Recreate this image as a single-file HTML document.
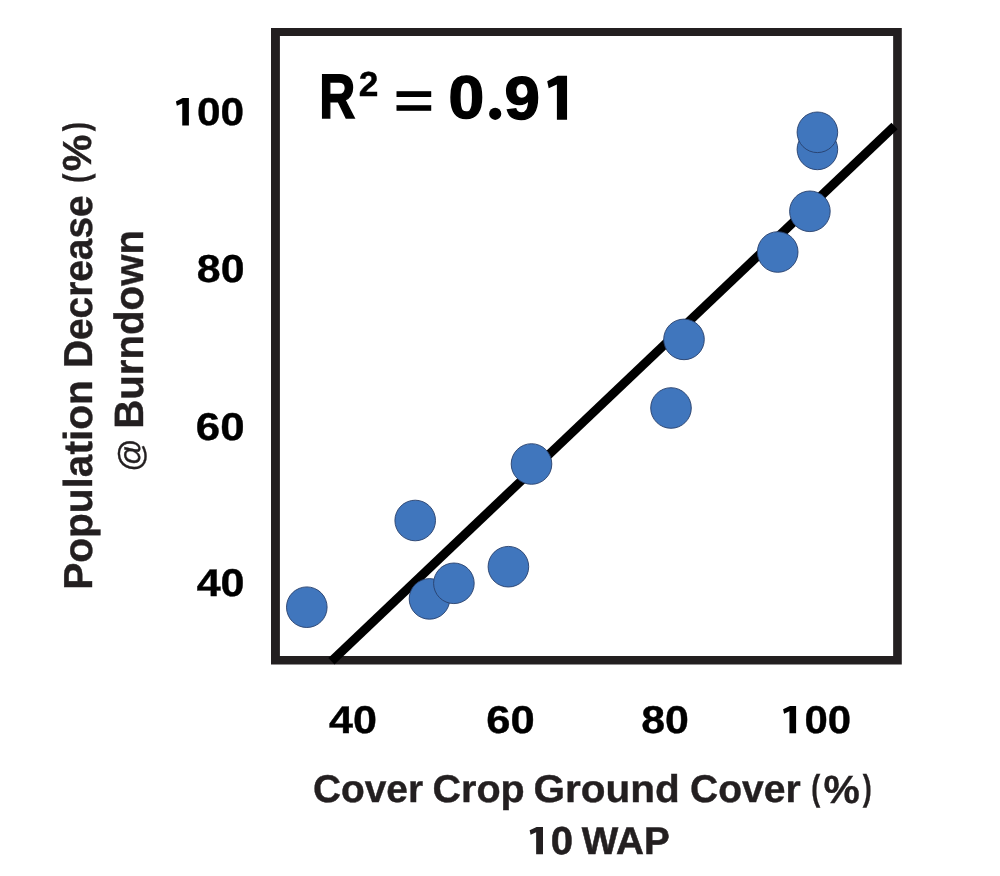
<!DOCTYPE html>
<html><head><meta charset="utf-8"><title>Chart</title>
<style>
html,body{margin:0;padding:0;background:#fff;}
svg{display:block;will-change:transform}
text{font-family:"Liberation Sans",sans-serif;font-size:100px;vector-effect:non-scaling-stroke;stroke-linejoin:miter;text-rendering:geometricPrecision;}
.pts circle{fill:#4076bd;stroke:#27406c;stroke-width:0.9}
</style></head>
<body>
<svg width="1000" height="876" viewBox="0 0 1000 876">
<rect width="1000" height="876" fill="#fff"/>
<path fill-rule="evenodd" fill="#231f20" d="M271 28.1H901.8V664.6H271Z M279.9 36H893.15V656H279.9Z"/>
<line x1="331.4" y1="661.2" x2="894.55" y2="126.1" stroke="#000" stroke-width="9"/>
<g class="pts">
<circle cx="306.8" cy="607.2" r="20.3"/>
<circle cx="415.2" cy="520.5" r="20.3"/>
<circle cx="429.5" cy="598.9" r="20.3"/>
<circle cx="453.9" cy="583.3" r="20.3"/>
<circle cx="508.4" cy="566.7" r="20.3"/>
<circle cx="531.5" cy="464" r="20.3"/>
<circle cx="671" cy="408" r="20.3"/>
<circle cx="684" cy="339.4" r="20.3"/>
<circle cx="777.7" cy="252" r="20.3"/>
<circle cx="809.9" cy="211.3" r="20.3"/>
<circle cx="817.4" cy="149.4" r="20.3"/>
<circle cx="817.4" cy="132.3" r="20.3"/>
</g>
<text transform="translate(319.26,118.30) scale(0.4994,0.6279)" font-weight="bold" fill="#000" stroke="#000" stroke-width="2.6">R</text>
<text transform="translate(358.77,96.10) scale(0.3531,0.3480)" font-weight="bold" fill="#000" stroke="#000" stroke-width="1.2">2</text>
<text transform="translate(394.07,118.49) scale(0.6820,0.5134)" font-weight="bold" fill="#000" stroke="#000" stroke-width="0.6">=</text>
<text transform="translate(448.46,118.41) scale(0.6414,0.6031)" font-weight="bold" fill="#000" stroke="#000" stroke-width="2.4">0</text>
<circle cx="495.2" cy="113.8" r="6.1" fill="#000"/>
<text transform="translate(504.49,118.51) scale(0.6360,0.6045)" font-weight="bold" fill="#000" stroke="#000" stroke-width="2.4">9</text>
<path d="M557.60 75.80 L567.05 75.80 L567.05 119.80 L556.90 119.80 L556.90 84.50 L548.70 88.30 L547.20 81.30Z" fill="#000"/>
<text transform="translate(329.04,733.20) scale(0.4305,0.3871)" font-weight="bold" fill="#000" stroke="#000" stroke-width="1.0">40</text>
<text transform="translate(486.26,733.20) scale(0.4359,0.3871)" font-weight="bold" fill="#000" stroke="#000" stroke-width="1.0">60</text>
<text transform="translate(641.21,733.20) scale(0.4288,0.3871)" font-weight="bold" fill="#000" stroke="#000" stroke-width="1.0">80</text>
<text transform="translate(804.42,733.20) scale(0.4194,0.3871)" font-weight="bold" fill="#000" stroke="#000" stroke-width="1.0">00</text>
<path d="M789.91 705.90 L796.10 705.90 L796.10 733.30 L789.45 733.30 L789.45 711.32 L784.08 713.68 L783.10 709.32Z" fill="#000"/>
<text transform="translate(197.00,125.30) scale(0.4243,0.3871)" font-weight="bold" fill="#000" stroke="#000" stroke-width="1.0">00</text>
<text transform="translate(196.81,282.10) scale(0.4288,0.3886)" font-weight="bold" fill="#000" stroke="#000" stroke-width="1.0">80</text>
<text transform="translate(195.74,439.50) scale(0.4388,0.3871)" font-weight="bold" fill="#000" stroke="#000" stroke-width="1.0">60</text>
<text transform="translate(196.64,595.70) scale(0.4305,0.3871)" font-weight="bold" fill="#000" stroke="#000" stroke-width="1.0">40</text>
<path d="M182.71 98.00 L188.90 98.00 L188.90 125.50 L182.25 125.50 L182.25 103.44 L176.88 105.81 L175.90 101.44Z" fill="#000"/>
<text transform="translate(312.95,802.10) scale(0.3885,0.3870)" font-weight="bold" fill="#231f20" stroke="#231f20" stroke-width="1.0">Cover</text>
<text transform="translate(432.42,802.10) scale(0.3956,0.3870)" font-weight="bold" fill="#231f20" stroke="#231f20" stroke-width="1.0">Crop</text>
<text transform="translate(533.48,802.10) scale(0.4054,0.3870)" font-weight="bold" fill="#231f20" stroke="#231f20" stroke-width="1.0">Ground</text>
<text transform="translate(689.94,802.10) scale(0.3903,0.3870)" font-weight="bold" fill="#231f20" stroke="#231f20" stroke-width="1.0">Cover</text>
<text transform="translate(811.16,799.82) scale(0.2693,0.3605)" font-weight="bold" fill="#231f20" stroke="#231f20" stroke-width="1.0">(</text>
<text transform="translate(823.48,802.59) scale(0.4082,0.3923)" font-weight="bold" fill="#231f20" stroke="#231f20" stroke-width="1.0">%</text>
<text transform="translate(862.87,799.82) scale(0.2693,0.3605)" font-weight="bold" fill="#231f20" stroke="#231f20" stroke-width="1.0">)</text>
<path d="M536.62 826.90 L543.00 826.90 L543.00 854.30 L536.15 854.30 L536.15 832.32 L530.61 834.68 L529.60 830.32Z" fill="#231f20"/>
<text transform="translate(550.66,853.97) scale(0.4017,0.3884)" font-weight="bold" fill="#231f20" stroke="#231f20" stroke-width="1.3">0</text>
<text transform="translate(581.70,853.90) scale(0.3866,0.3855)" font-weight="bold" fill="#231f20" stroke="#231f20" stroke-width="1.4">WAP</text>
<text transform="translate(92.20,589.84) rotate(-90) scale(0.4058,0.4043)" font-weight="bold" fill="#231f20" stroke="#231f20" stroke-width="1.0">Population</text>
<text transform="translate(92.20,368.12) rotate(-90) scale(0.3885,0.4043)" font-weight="bold" fill="#231f20" stroke="#231f20" stroke-width="1.0">Decrease</text>
<text transform="translate(88.03,182.76) rotate(-90) scale(0.2729,0.3551)" font-weight="bold" fill="#231f20" stroke="#231f20" stroke-width="1.0">(</text>
<text transform="translate(91.48,171.13) rotate(-90) scale(0.4129,0.4051)" font-weight="bold" fill="#231f20" stroke="#231f20" stroke-width="1.0">%</text>
<text transform="translate(88.03,131.13) rotate(-90) scale(0.2764,0.3551)" font-weight="bold" fill="#231f20" stroke="#231f20" stroke-width="1.0">)</text>
<text transform="translate(142.90,428.71) rotate(-90) scale(0.4019,0.4087)" font-weight="bold" fill="#231f20" stroke="#231f20" stroke-width="1.0">Burndown</text>
<text transform="translate(141.95,471.83) rotate(-90) scale(0.3282,0.3326)" font-weight="normal" fill="#231f20" stroke="#231f20" stroke-width="1.1">@</text>
</svg>
</body></html>
